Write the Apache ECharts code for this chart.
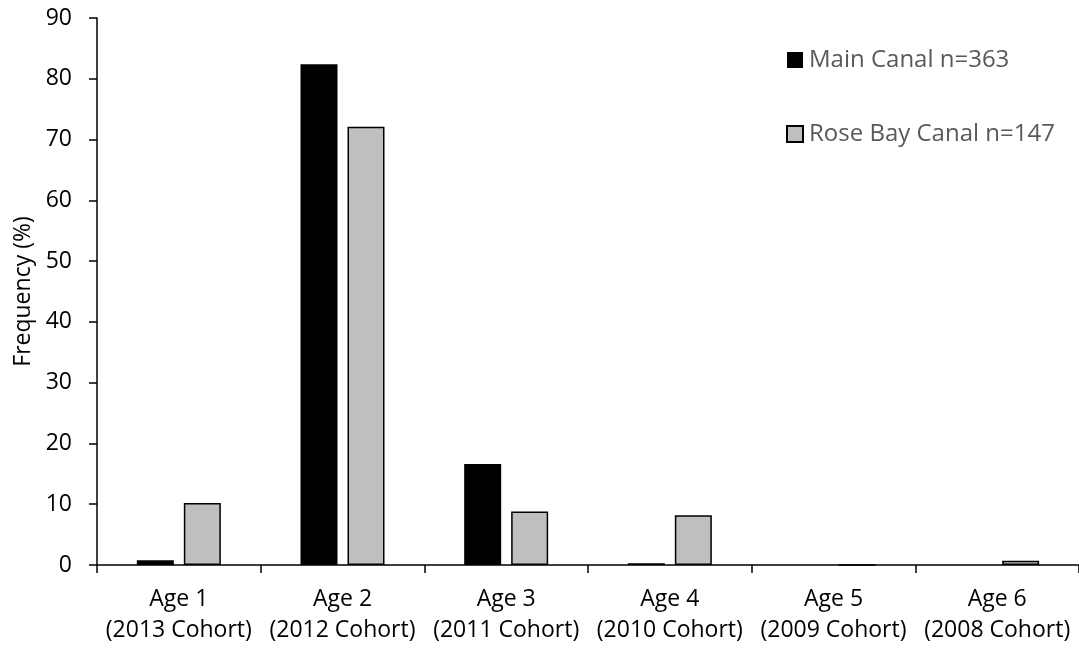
<!DOCTYPE html>
<html>
<head>
<meta charset="utf-8">
<script src="https://cdn.jsdelivr.net/npm/echarts@6/dist/echarts.min.js"></script>
<style>html,body{margin:0;padding:0;background:#fff}#c{width:1079px;height:649px}</style>
</head>
<body>
<div id="c"></div>
<script>
var categories = ['Age 1\n(2013 Cohort)', 'Age 2\n(2012 Cohort)', 'Age 3\n(2011 Cohort)', 'Age 4\n(2010 Cohort)', 'Age 5\n(2009 Cohort)', 'Age 6\n(2008 Cohort)'];
var mainCanal = [0.8, 82.4, 16.6, 0.3, 0, 0];
var roseBayCanal = [10.2, 72.1, 8.8, 8.2, 0, 0.7];
var seriesNames = ['Main Canal n=363', 'Rose Bay Canal n=147'];
var yAxisTitle = 'Frequency (%)';

var FONT = 'Open Sans';
var chart = echarts.init(document.getElementById('c'), null, {renderer: 'canvas'});
chart.setOption({
  animation: false,
  backgroundColor: '#ffffff',
  textStyle: {fontFamily: FONT},
  grid: {left: 97, right: 0, top: 18, bottom: 84, containLabel: false},
  legend: {
    orient: 'vertical',
    left: 781,
    top: 43,
    icon: 'rect',
    itemWidth: 16,
    itemHeight: 16,
    itemGap: 50,
    textStyle: {fontFamily: FONT, fontSize: 24, color: '#595959', padding: [0, 0, 0, 1]},
    data: seriesNames
  },
  xAxis: {
    type: 'category',
    data: categories,
    axisLine: {lineStyle: {color: '#000', width: 1.5}},
    axisTick: {show: true, length: 8, lineStyle: {color: '#000', width: 1.5}},
    axisLabel: {color: '#000', fontFamily: FONT, fontSize: 23, lineHeight: 31, margin: 19, interval: 0}
  },
  yAxis: {
    type: 'value',
    min: 0,
    max: 90,
    interval: 10,
    name: yAxisTitle,
    nameLocation: 'middle',
    nameGap: 58,
    nameTextStyle: {color: '#000', fontFamily: FONT, fontSize: 23},
    axisLine: {show: true, lineStyle: {color: '#000', width: 1.5}},
    axisTick: {show: true, length: 8, lineStyle: {color: '#000', width: 1.5}},
    axisLabel: {color: '#000', fontFamily: FONT, fontSize: 23, margin: 25},
    splitLine: {show: false}
  },
  series: [
    {
      name: seriesNames[0],
      type: 'bar',
      data: mainCanal,
      barWidth: 37,
      barGap: '27%',
      itemStyle: {color: '#000000', borderWidth: 0}
    },
    {
      name: seriesNames[1],
      type: 'bar',
      data: roseBayCanal,
      barWidth: 37,
      barGap: '27%',
      itemStyle: {color: '#bfbfbf', borderColor: '#000000', borderWidth: 1.5}
    }
  ]
});
</script>
</body>
</html>
